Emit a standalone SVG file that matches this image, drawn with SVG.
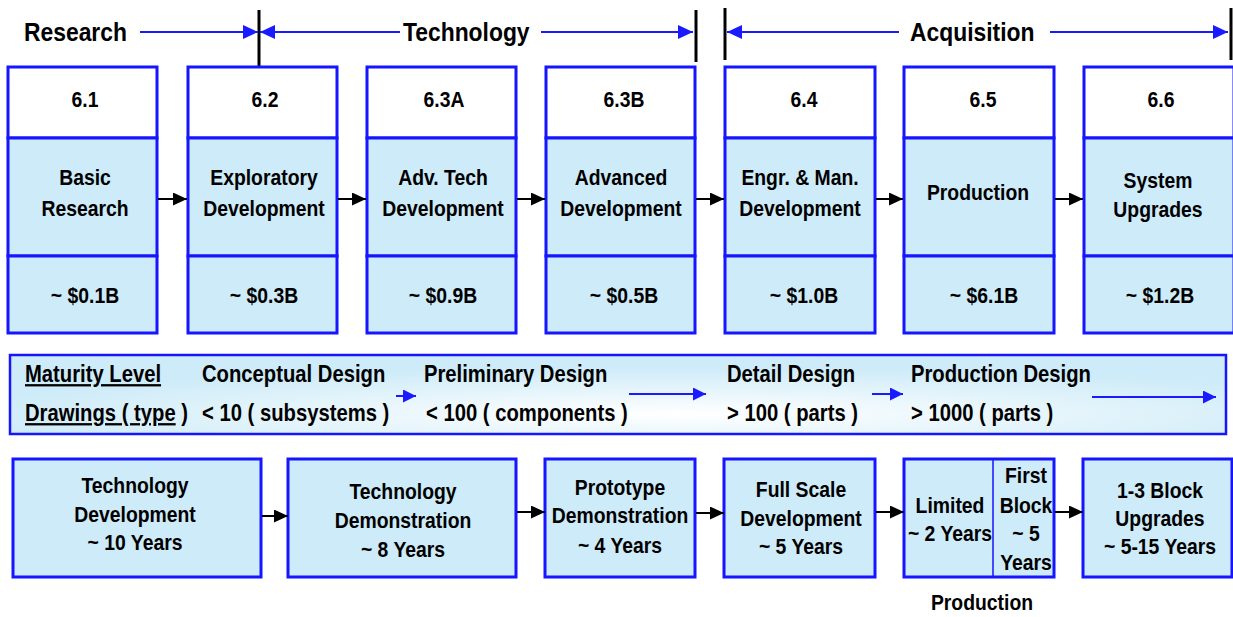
<svg xmlns="http://www.w3.org/2000/svg" width="1233" height="617" viewBox="0 0 1233 617">
<defs>
<style>
.t{font-family:"Liberation Sans",Arial,sans-serif;font-weight:bold;font-size:22px;fill:#000;text-anchor:middle}
.h{font-size:26px;text-anchor:start}
.b{font-size:23px;text-anchor:start}
.u{text-decoration:underline}
.top{fill:#fff;stroke:#1515ff;stroke-width:3}
.cell{fill:#cdebf8;stroke:#1515ff;stroke-width:3}
.band{stroke:#1515ff;stroke-width:2.5}
.div{stroke:#1515ff;stroke-width:1.5}
.bl{stroke:#1a1aff;stroke-width:2;fill:none}
.bk{stroke:#000;stroke-width:2;fill:none}
.bar{stroke:#000;stroke-width:3}
</style>
<marker id="ab" markerUnits="userSpaceOnUse" markerWidth="16" markerHeight="14" refX="15" refY="7" orient="auto"><path d="M0,0 L15,7 L0,14 Z" fill="#1a1aff"/></marker>
<marker id="abs" markerUnits="userSpaceOnUse" markerWidth="14" markerHeight="13" refX="13" refY="6.5" orient="auto"><path d="M0,0 L13,6.5 L0,13 Z" fill="#1a1aff"/></marker>
<marker id="ak" markerUnits="userSpaceOnUse" markerWidth="15" markerHeight="14" refX="14" refY="6.5" orient="auto"><path d="M0,0 L14,6.5 L0,13 Z" fill="#000"/></marker>
<radialGradient id="bg" cx="0.55" cy="0.75" r="0.6">
<stop offset="0" stop-color="#ffffff"/>
<stop offset="1" stop-color="#cdebf8"/>
</radialGradient>
</defs>
<rect width="1233" height="617" fill="#fff"/>

<g id="header">
<text class="t h" transform="translate(24 41) scale(.88 1)">Research</text>
<text class="t h" transform="translate(403 41) scale(.88 1)">Technology</text>
<text class="t h" transform="translate(910 41) scale(.88 1)">Acquisition</text>
<line class="bar" x1="259" y1="10" x2="259" y2="66"/>
<line class="bar" x1="696" y1="10" x2="696" y2="62"/>
<line class="bar" x1="725" y1="8" x2="725" y2="60"/>
<line class="bar" x1="1231" y1="8" x2="1231" y2="60"/>
<line class="bl" x1="140" y1="32" x2="258" y2="32" marker-end="url(#ab)"/>
<line class="bl" x1="400" y1="32" x2="260" y2="32" marker-end="url(#ab)"/>
<line class="bl" x1="541" y1="32" x2="693" y2="32" marker-end="url(#ab)"/>
<line class="bl" x1="899" y1="32" x2="727" y2="32" marker-end="url(#ab)"/>
<line class="bl" x1="1050" y1="32" x2="1228" y2="32" marker-end="url(#ab)"/>
</g>

<g id="c61">
<rect class="top" x="8" y="67" width="149" height="71"/>
<rect class="cell" x="8" y="138" width="149" height="118"/>
<rect class="cell" x="8" y="256" width="149" height="77"/>
<text class="t" transform="translate(85 107) scale(.88 1)">6.1</text>
<text class="t" transform="translate(85 0) scale(.88 1)"><tspan x="0" y="185">Basic</tspan><tspan x="0" y="216">Research</tspan></text>
<text class="t" transform="translate(85 303) scale(.88 1)">~ $0.1B</text>
</g>
<g id="c62">
<rect class="top" x="188" y="67" width="149" height="71"/>
<rect class="cell" x="188" y="138" width="149" height="118"/>
<rect class="cell" x="188" y="256" width="149" height="77"/>
<text class="t" transform="translate(265 107) scale(.88 1)">6.2</text>
<text class="t" transform="translate(264 0) scale(.88 1)"><tspan x="0" y="185">Exploratory</tspan><tspan x="0" y="216">Development</tspan></text>
<text class="t" transform="translate(264 303) scale(.88 1)">~ $0.3B</text>
</g>
<g id="c63a">
<rect class="top" x="367" y="67" width="149" height="71"/>
<rect class="cell" x="367" y="138" width="149" height="118"/>
<rect class="cell" x="367" y="256" width="149" height="77"/>
<text class="t" transform="translate(444 107) scale(.88 1)">6.3A</text>
<text class="t" transform="translate(443 0) scale(.88 1)"><tspan x="0" y="185">Adv. Tech</tspan><tspan x="0" y="216">Development</tspan></text>
<text class="t" transform="translate(443 303) scale(.88 1)">~ $0.9B</text>
</g>
<g id="c63b">
<rect class="top" x="546" y="67" width="149" height="71"/>
<rect class="cell" x="546" y="138" width="149" height="118"/>
<rect class="cell" x="546" y="256" width="149" height="77"/>
<text class="t" transform="translate(624 107) scale(.88 1)">6.3B</text>
<text class="t" transform="translate(621 0) scale(.88 1)"><tspan x="0" y="185">Advanced</tspan><tspan x="0" y="216">Development</tspan></text>
<text class="t" transform="translate(624 303) scale(.88 1)">~ $0.5B</text>
</g>
<g id="c64">
<rect class="top" x="725" y="67" width="150" height="71"/>
<rect class="cell" x="725" y="138" width="150" height="118"/>
<rect class="cell" x="725" y="256" width="150" height="77"/>
<text class="t" transform="translate(804 107) scale(.88 1)">6.4</text>
<text class="t" transform="translate(800 0) scale(.88 1)"><tspan x="0" y="185">Engr. &amp; Man.</tspan><tspan x="0" y="216">Development</tspan></text>
<text class="t" transform="translate(804 303) scale(.88 1)">~ $1.0B</text>
</g>
<g id="c65">
<rect class="top" x="904" y="67" width="150" height="71"/>
<rect class="cell" x="904" y="138" width="150" height="118"/>
<rect class="cell" x="904" y="256" width="150" height="77"/>
<text class="t" transform="translate(983 107) scale(.88 1)">6.5</text>
<text class="t" transform="translate(978 200) scale(.88 1)">Production</text>
<text class="t" transform="translate(984 303) scale(.88 1)">~ $6.1B</text>
</g>
<g id="c66">
<rect class="top" x="1084" y="67" width="150" height="71"/>
<rect class="cell" x="1084" y="138" width="150" height="118"/>
<rect class="cell" x="1084" y="256" width="150" height="77"/>
<text class="t" transform="translate(1161 107) scale(.88 1)">6.6</text>
<text class="t" transform="translate(1158 0) scale(.88 1)"><tspan x="0" y="188">System</tspan><tspan x="0" y="217">Upgrades</tspan></text>
<text class="t" transform="translate(1160 303) scale(.88 1)">~ $1.2B</text>
</g>

<g id="maturity">
<rect class="band" x="10" y="355" width="1216" height="79" fill="url(#bg)"/>
<text class="t b" transform="translate(25 382) scale(.88 1)"><tspan class="u">Maturity Level</tspan></text>
<text class="t b" transform="translate(25 421) scale(.88 1)"><tspan class="u">Drawings ( type</tspan> )</text>
<text class="t b" transform="translate(202 382) scale(.88 1)">Conceptual Design</text>
<text class="t b" transform="translate(202 421) scale(.88 1)">&lt; 10 ( subsystems )</text>
<text class="t b" transform="translate(424 382) scale(.88 1)">Preliminary Design</text>
<text class="t b" transform="translate(426 421) scale(.88 1)">&lt; 100 ( components )</text>
<text class="t b" transform="translate(727 382) scale(.88 1)">Detail Design</text>
<text class="t b" transform="translate(727 421) scale(.88 1)">&gt; 100 ( parts )</text>
<text class="t b" transform="translate(911 382) scale(.88 1)">Production Design</text>
<text class="t b" transform="translate(911 421) scale(.88 1)">&gt; 1000 ( parts )</text>
<line class="bl" x1="396" y1="396" x2="416" y2="396" marker-end="url(#abs)"/>
<line class="bl" x1="629" y1="394" x2="706" y2="394" marker-end="url(#abs)"/>
<line class="bl" x1="872" y1="394" x2="903" y2="394" marker-end="url(#abs)"/>
<line class="bl" x1="1092" y1="397" x2="1216" y2="397" marker-end="url(#abs)"/>
</g>

<g id="p1">
<rect class="cell" x="13" y="459" width="248" height="118"/>
<text class="t" transform="translate(135 0) scale(.88 1)"><tspan x="0" y="493">Technology</tspan><tspan x="0" y="522">Development</tspan><tspan x="0" y="550">~ 10 Years</tspan></text>
</g>
<g id="p2">
<rect class="cell" x="288" y="459" width="228" height="118"/>
<text class="t" transform="translate(403 0) scale(.88 1)"><tspan x="0" y="499">Technology</tspan><tspan x="0" y="528">Demonstration</tspan><tspan x="0" y="557">~ 8 Years</tspan></text>
</g>
<g id="p3">
<rect class="cell" x="545" y="459" width="150" height="118"/>
<text class="t" transform="translate(620 0) scale(.88 1)"><tspan x="0" y="495">Prototype</tspan><tspan x="0" y="523">Demonstration</tspan><tspan x="0" y="553">~ 4 Years</tspan></text>
</g>
<g id="p4">
<rect class="cell" x="724" y="459" width="151" height="118"/>
<text class="t" transform="translate(801 0) scale(.88 1)"><tspan x="0" y="497">Full Scale</tspan><tspan x="0" y="526">Development</tspan><tspan x="0" y="554">~ 5 Years</tspan></text>
</g>
<g id="p5">
<rect class="cell" x="904" y="459" width="150" height="118"/>
<line class="div" x1="993" y1="460" x2="993" y2="576"/>
<text class="t" transform="translate(950 0) scale(.88 1)"><tspan x="0" y="513">Limited</tspan><tspan x="0" y="541">~ 2 Years</tspan></text>
<text class="t" transform="translate(1026 0) scale(.88 1)"><tspan x="0" y="483">First</tspan><tspan x="0" y="513">Block</tspan><tspan x="0" y="541">~ 5</tspan><tspan x="0" y="570">Years</tspan></text>
<text class="t" transform="translate(982 610) scale(.88 1)">Production</text>
</g>
<g id="p6">
<rect class="cell" x="1083" y="459" width="149" height="118"/>
<text class="t" transform="translate(1160 0) scale(.88 1)"><tspan x="0" y="498">1-3 Block</tspan><tspan x="0" y="526">Upgrades</tspan><tspan x="0" y="554">~ 5-15 Years</tspan></text>
</g>

<g id="connectors">
<line class="bk" x1="158" y1="199" x2="187" y2="199" marker-end="url(#ak)"/>
<line class="bk" x1="338" y1="199" x2="366" y2="199" marker-end="url(#ak)"/>
<line class="bk" x1="517" y1="199" x2="545" y2="199" marker-end="url(#ak)"/>
<line class="bk" x1="696" y1="199" x2="724" y2="199" marker-end="url(#ak)"/>
<line class="bk" x1="876" y1="199" x2="903" y2="199" marker-end="url(#ak)"/>
<line class="bk" x1="1055" y1="199" x2="1083" y2="199" marker-end="url(#ak)"/>
<line class="bk" x1="262" y1="516" x2="288" y2="516" marker-end="url(#ak)"/>
<line class="bk" x1="517" y1="512" x2="545" y2="512" marker-end="url(#ak)"/>
<line class="bk" x1="696" y1="513" x2="724" y2="513" marker-end="url(#ak)"/>
<line class="bk" x1="876" y1="512" x2="904" y2="512" marker-end="url(#ak)"/>
<line class="bk" x1="1055" y1="512" x2="1083" y2="512" marker-end="url(#ak)"/>
</g>
</svg>
